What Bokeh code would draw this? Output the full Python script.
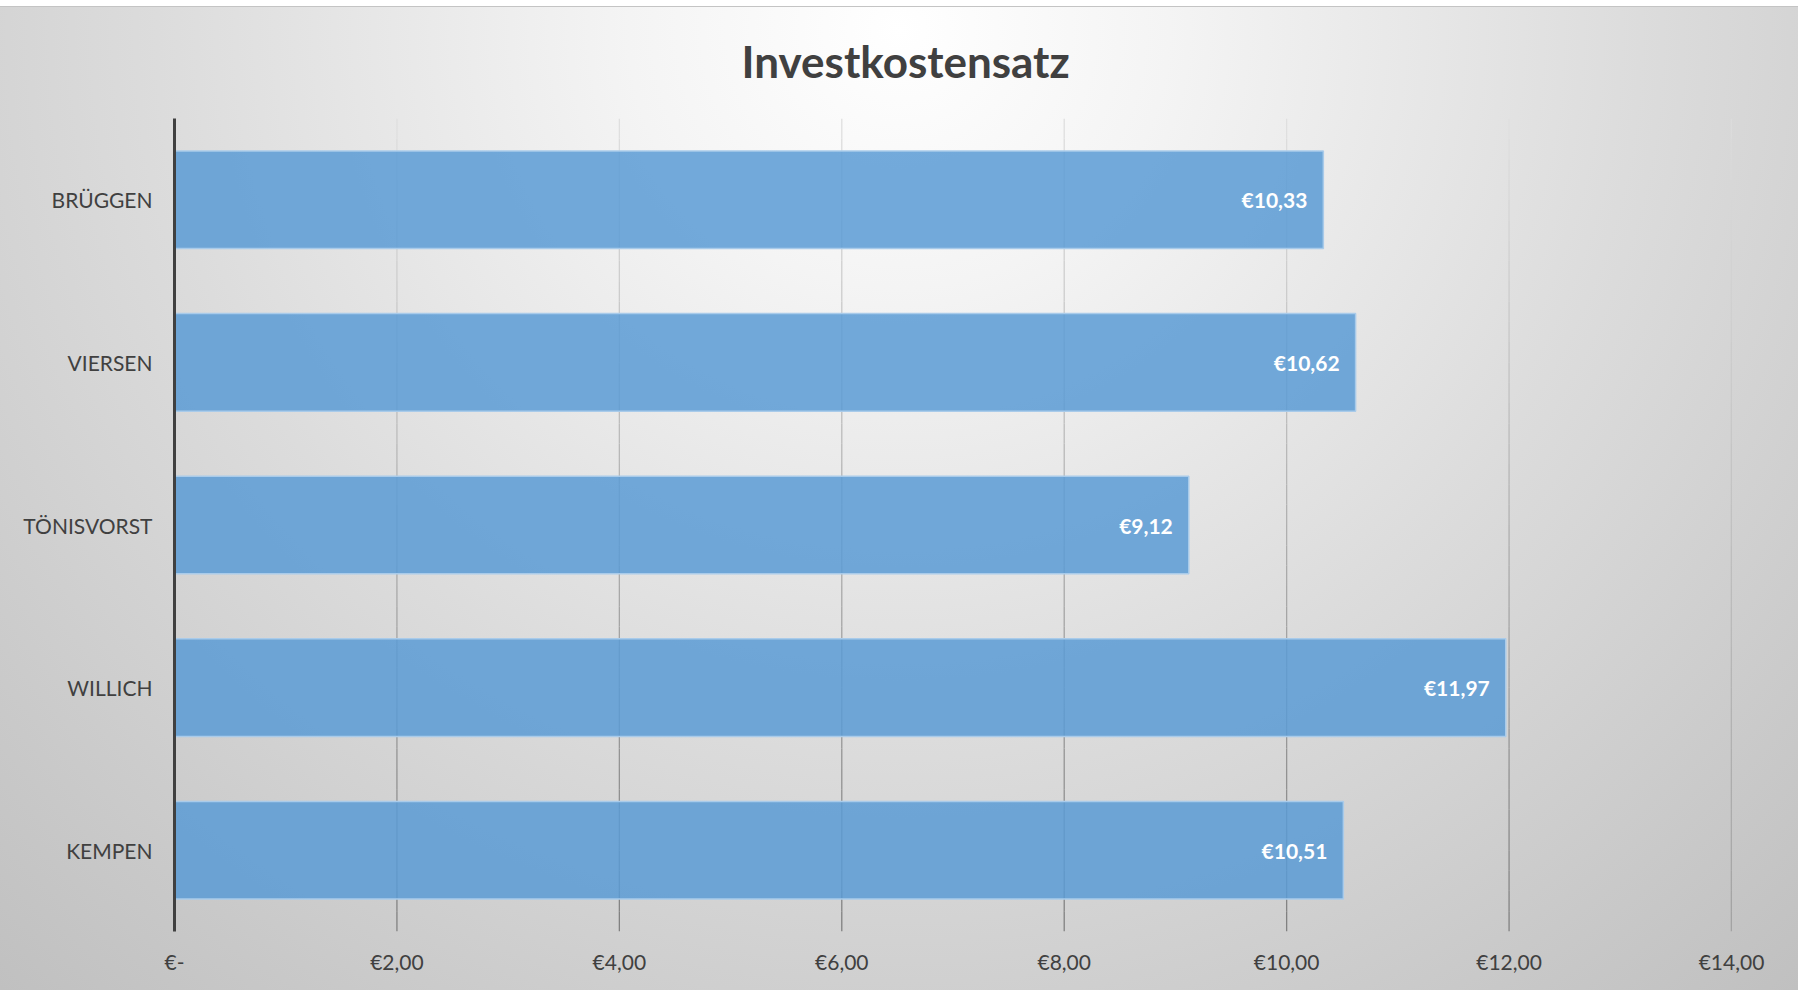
from bokeh.plotting import figure
from bokeh.models import Range1d, FixedTicker
from bokeh.core.properties import value
from bokeh.embed import file_html
from bokeh.resources import INLINE

# ---- data ----
categories = ["KEMPEN", "WILLICH", "TÖNISVORST", "VIERSEN", "BRÜGGEN"]
values = [10.51, 11.97, 9.12, 10.62, 10.33]
x_ticks = [0, 2, 4, 6, 8, 10, 12, 14]
x_tick_labels = ["€-", "€2,00", "€4,00", "€6,00", "€8,00", "€10,00", "€12,00", "€14,00"]
title_text = "Investkostensatz"
bar_labels = ["€" + f"{v:.2f}".replace(".", ",") for v in values]

ypos = list(range(len(categories)))
y_lo, y_hi = -0.5, len(categories) - 0.5

# ---- figure ----
p = figure(width=1798, height=990,
           y_range=Range1d(y_lo, y_hi),
           x_range=Range1d(0, 14),
           output_backend="svg", toolbar_location=None,
           min_border_left=174, min_border_right=67,
           min_border_top=118, min_border_bottom=59)
p.background_fill_color = None
p.border_fill_color = None
p.outline_line_color = None
p.styles = {"background": (
    "linear-gradient(#ffffff,#ffffff) 0 0 / 100% 6px no-repeat, "
    "linear-gradient(#c4c4c4,#c4c4c4) 0 6px / 100% 1px no-repeat, "
    "radial-gradient(ellipse 75% 130% at 50% 3%, #ffffff 0%, #f4f4f4 20%, "
    "#dcdcdc 55%, #c9c9c9 85%, #c0c0c0 100%)")}

p.title.text = title_text
p.title.align = "left"
p.title.offset = 567
p.title.standoff = 64
p.title.text_font = "Lato"
p.title.text_font_style = "bold"
p.title.text_font_size = "44px"
p.title.text_color = "#404040"

p.xgrid.visible = False
p.ygrid.visible = False

# gradient vertical gridlines (light at top, darker at bottom)
n = 40
top_c, bot_c = 224, 128
gx, gy0, gy1, gcol = [], [], [], []
for t in x_ticks[1:]:
    for i in range(n):
        f = (i + 0.5) / n
        c = int(round(bot_c + (top_c - bot_c) * f))
        gx.append(t)
        gy0.append(y_lo + (y_hi - y_lo) * i / n)
        gy1.append(y_lo + (y_hi - y_lo) * (i + 1) / n)
        gcol.append("#%02x%02x%02x" % (c, c, c))
p.segment(x0=gx, x1=gx, y0=gy0, y1=gy1, line_color=gcol, line_width=1.3)

# bars
p.hbar(y=ypos, left=0, right=values, height=0.6,
       fill_color="#5b9bd5", fill_alpha=0.85,
       line_color="#a9cbea", line_width=1.5)

# data labels
p.text(x=values, y=ypos, text=bar_labels, x_offset=-16,
       text_align="right", text_baseline="middle",
       text_font=value("Lato"), text_font_style="bold",
       text_font_size="21px", text_color="white")

# axes
p.yaxis.ticker = FixedTicker(ticks=ypos)
p.yaxis.major_label_overrides = {y: c for y, c in zip(ypos, categories)}
p.yaxis.axis_line_width = 3
p.yaxis.axis_line_color = "#404040"
p.yaxis.major_tick_line_color = None
p.yaxis.minor_tick_line_color = None
p.yaxis.major_label_text_font = "Lato"
p.yaxis.major_label_text_font_size = "21px"
p.yaxis.major_label_text_color = "#404040"
p.yaxis.major_label_standoff = 16

p.xaxis.ticker = FixedTicker(ticks=x_ticks)
p.xaxis.major_label_overrides = {t: l for t, l in zip(x_ticks, x_tick_labels)}
p.xaxis.axis_line_color = None
p.xaxis.major_tick_line_color = None
p.xaxis.minor_tick_line_color = None
p.xaxis.major_label_text_font = "Lato"
p.xaxis.major_label_text_font_size = "21px"
p.xaxis.major_label_text_color = "#404040"
p.xaxis.major_label_standoff = 11

open("out.html", "w").write(file_html(p, INLINE))
